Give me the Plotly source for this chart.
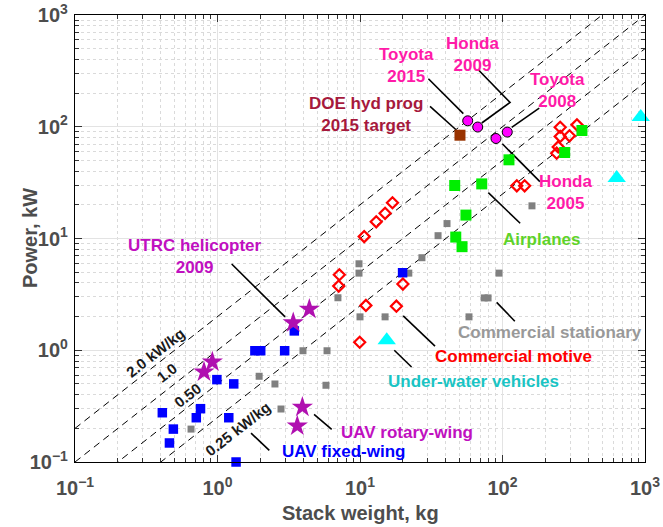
import plotly.graph_objects as go
import numpy as np

# ---------------- data (stack weight kg, power kW) ----------------
uav_fixed_x = [0.41, 0.49, 0.46, 0.76, 0.71, 0.99, 1.30, 1.20, 1.35, 1.83, 2.01, 2.96, 3.46, 19.9]
uav_fixed_y = [0.276, 0.197, 0.148, 0.30, 0.249, 0.546, 0.50, 0.249, 0.10, 0.99, 0.99, 0.99, 1.49, 4.94]

stationary_x = [0.652, 1.96, 2.53, 2.79, 3.98, 5.87, 5.77, 7.0, 9.84, 9.84, 10.0, 15.0, 22.0,
                27.2, 35.3, 40.8, 58.2, 74.4, 79.2, 94.5, 161]
stationary_y = [0.197, 0.585, 0.499, 0.298, 0.99, 0.99, 0.486, 2.95, 5.94, 4.9, 1.99, 1.99, 4.9,
                6.73, 10.6, 13.6, 1.99, 2.94, 2.94, 4.9, 19.6]

motive_x = [10.7, 13.0, 15.0, 16.9, 7.16, 7.09, 11.0, 18.0, 20.0, 9.95, 126, 143,
            254, 333, 254, 295, 246, 240]
motive_y = [10.4, 14.1, 16.8, 20.9, 4.74, 3.75, 2.52, 2.48, 3.91, 1.18, 29.6, 29.6,
            99, 104, 82, 83, 66, 58]

airplane_x = [111, 46.2, 71.5, 55.4, 47.0, 52.0, 361, 273]
airplane_y = [50.6, 29.8, 30.8, 16.2, 10.3, 8.45, 92.6, 58.8]

underwater_x = [933, 633, 15.4]
underwater_y = [122, 34.7, 1.23]

rotary_x = [0.804, 0.92, 3.40, 4.41, 3.94, 3.63]
rotary_y = [0.639, 0.785, 1.76, 2.33, 0.31, 0.21]

car_names = ["Toyota 2015", "Honda 2009", "Honda 2005", "Toyota 2008"]
car_x = [57, 67, 90, 108]
car_y = [113, 99.4, 78.5, 89.6]

doe_x = [50.3]
doe_y = [84]

# specific power reference lines, kW/kg
specific_power = [2.0, 1.0, 0.5, 0.25]
specific_labels = ["2.0 kW/kg", "1.0", "0.50", "0.25 kW/kg"]

tick_vals = [0.1, 1, 10, 100, 1000]
tick_text = ["10<sup>−1</sup>", "10<sup>0</sup>", "10<sup>1</sup>", "10<sup>2</sup>", "10<sup>3</sup>"]
minor_vals = [m * d for d in [0.1, 1, 10, 100] for m in range(2, 10)]

FONT = "Liberation Sans, Arial, Helvetica, sans-serif"
TITLE_COLOR = "#4d4d4d"

fig = go.Figure()

# dashed constant specific-power lines
line_x = np.array([0.1, 1000.0])
for k in specific_power:
    fig.add_trace(go.Scatter(x=line_x, y=k * line_x, mode="lines",
                             line=dict(color="black", width=1, dash="7px,5px"),
                             hoverinfo="skip"))

# leader lines (x list, y list)
leaders = [
    ([1.258, 2.98], [5.91, 1.99]),          # UTRC
    ([4.76, 6.33], [0.267, 0.196]),         # UAV rotary
    ([1.72, 2.31], [0.181, 0.127]),         # UAV fixed
    ([20.1, 33.6], [2.03, 1.09]),           # commercial motive
    ([17.4, 23.0], [1.0, 0.708]),           # under-water
    ([91.0, 122], [2.68, 1.82]),            # commercial stationary
    ([79.5, 133], [25.7, 13.7]),            # airplanes
    ([99.7, 183], [70.4, 32.3]),            # Honda 2005
    ([116, 181], [98.6, 147]),              # Toyota 2008
    ([71.5, 113, 67.6], [108, 165, 324]),   # Honda 2009
    ([30.2, 53.1], [269, 131]),             # Toyota 2015
    ([31.0, 47.2], [152, 94]),              # DOE
]
for lx, ly in leaders:
    fig.add_trace(go.Scatter(x=lx, y=ly, mode="lines",
                             line=dict(color="black", width=1.6), hoverinfo="skip"))

def add_markers(x, y, symbol, size, color, line_color=None, line_width=0):
    fig.add_trace(go.Scatter(
        x=x, y=y, mode="markers", cliponaxis=False,
        marker=dict(symbol=symbol, size=size, color=color,
                    line=dict(color=line_color or color, width=line_width))))

add_markers(stationary_x, stationary_y, "square", 7, "#808080")
add_markers(uav_fixed_x, uav_fixed_y, "square", 9.5, "#0000ff")
add_markers(motive_x, motive_y, "diamond-open", 8.5, "#ff0000", "#ff0000", 2.2)
add_markers(airplane_x, airplane_y, "square", 11, "#00ee00")
add_markers(underwater_x, underwater_y, "triangle-up", 16, "#00ffff")
add_markers(rotary_x, rotary_y, "star", 16, "#b010b0")
add_markers(doe_x, doe_y, "square", 11, "#993300")
add_markers(car_x, car_y, "circle", 10, "#ff00ff", "black", 1)

# text labels: (text, log10 x, log10 y, color)
labels = [
    ("Toyota<br>2015", 1.323, 2.547, "#ff1aa8"),
    ("Honda<br>2009", 1.786, 2.646, "#ff1aa8"),
    ("Toyota<br>2008", 2.389, 2.323, "#ff1aa8"),
    ("Honda<br>2005", 2.439, 1.408, "#ff1aa8"),
    ("DOE hyd prog<br>2015 target", 1.042, 2.112, "#a6193c"),
    ("Airplanes", 2.277, 0.987, "#5fd32a"),
    ("UTRC helicopter<br>2009", -0.158, 0.843, "#c010c0"),
    ("Commercial stationary", 2.333, 0.155, "#999999"),
    ("Commercial motive", 2.074, -0.054, "#ff0000"),
    ("Under-water vehicles", 1.793, -0.284, "#1ac4c4"),
    ("UAV rotary-wing", 1.328, -0.733, "#c010c0"),
    ("UAV fixed-wing", 0.881, -0.906, "#0000ff"),
]
for text, lx, ly, col in labels:
    fig.add_annotation(x=lx, y=ly, xref="x", yref="y", text=text, showarrow=False,
                       font=dict(family=FONT, size=17, color=col, weight="bold"),
                       align="center")

slope_pos = [(-0.434, -0.024), (-0.356, -0.195), (-0.212, -0.404), (0.146, -0.702)]
for text, (lx, ly) in zip(specific_labels, slope_pos):
    fig.add_annotation(x=lx, y=ly, xref="x", yref="y", text=text, showarrow=False,
                       textangle=-38,
                       font=dict(family=FONT, size=15, color="#1a1a1a", weight="bold"))

# axis titles
fig.add_annotation(x=-0.079, y=0.501, xref="paper", yref="paper", text="Power, kW",
                   showarrow=False, textangle=-90, xanchor="center", yanchor="middle",
                   font=dict(family=FONT, size=20, color=TITLE_COLOR, weight="bold"))
fig.add_annotation(x=0.5, y=-0.113, xref="paper", yref="paper", text="Stack weight, kg",
                   showarrow=False, xanchor="center", yanchor="middle",
                   font=dict(family=FONT, size=20, color=TITLE_COLOR, weight="bold"))

axis_common = dict(
    type="log", range=[-1, 3],
    tickmode="array", tickvals=tick_vals, ticktext=tick_text,
    tickfont=dict(family=FONT, size=20, color=TITLE_COLOR, weight="bold"),
    ticks="inside", ticklen=7, tickcolor="#333333",
    showline=True, linecolor="black", linewidth=1.2, mirror="ticks",
    showgrid=True, gridcolor="#e3e3e3", gridwidth=1,
    zeroline=False,
    minor=dict(tickmode="array", tickvals=minor_vals, ticks="inside", ticklen=4,
               tickcolor="#333333", showgrid=True, gridcolor="#dadada",
               griddash="dot", gridwidth=1),
)

fig.update_xaxes(**axis_common, ticklabelstandoff=8)
fig.update_yaxes(**axis_common, ticklabelstandoff=2)

fig.update_layout(
    width=663, height=527,
    margin=dict(l=75, r=18, t=15, b=65, autoexpand=False),
    plot_bgcolor="white", paper_bgcolor="white",
    showlegend=False,
    font=dict(family=FONT),
)

fig.write_html("out.html")
